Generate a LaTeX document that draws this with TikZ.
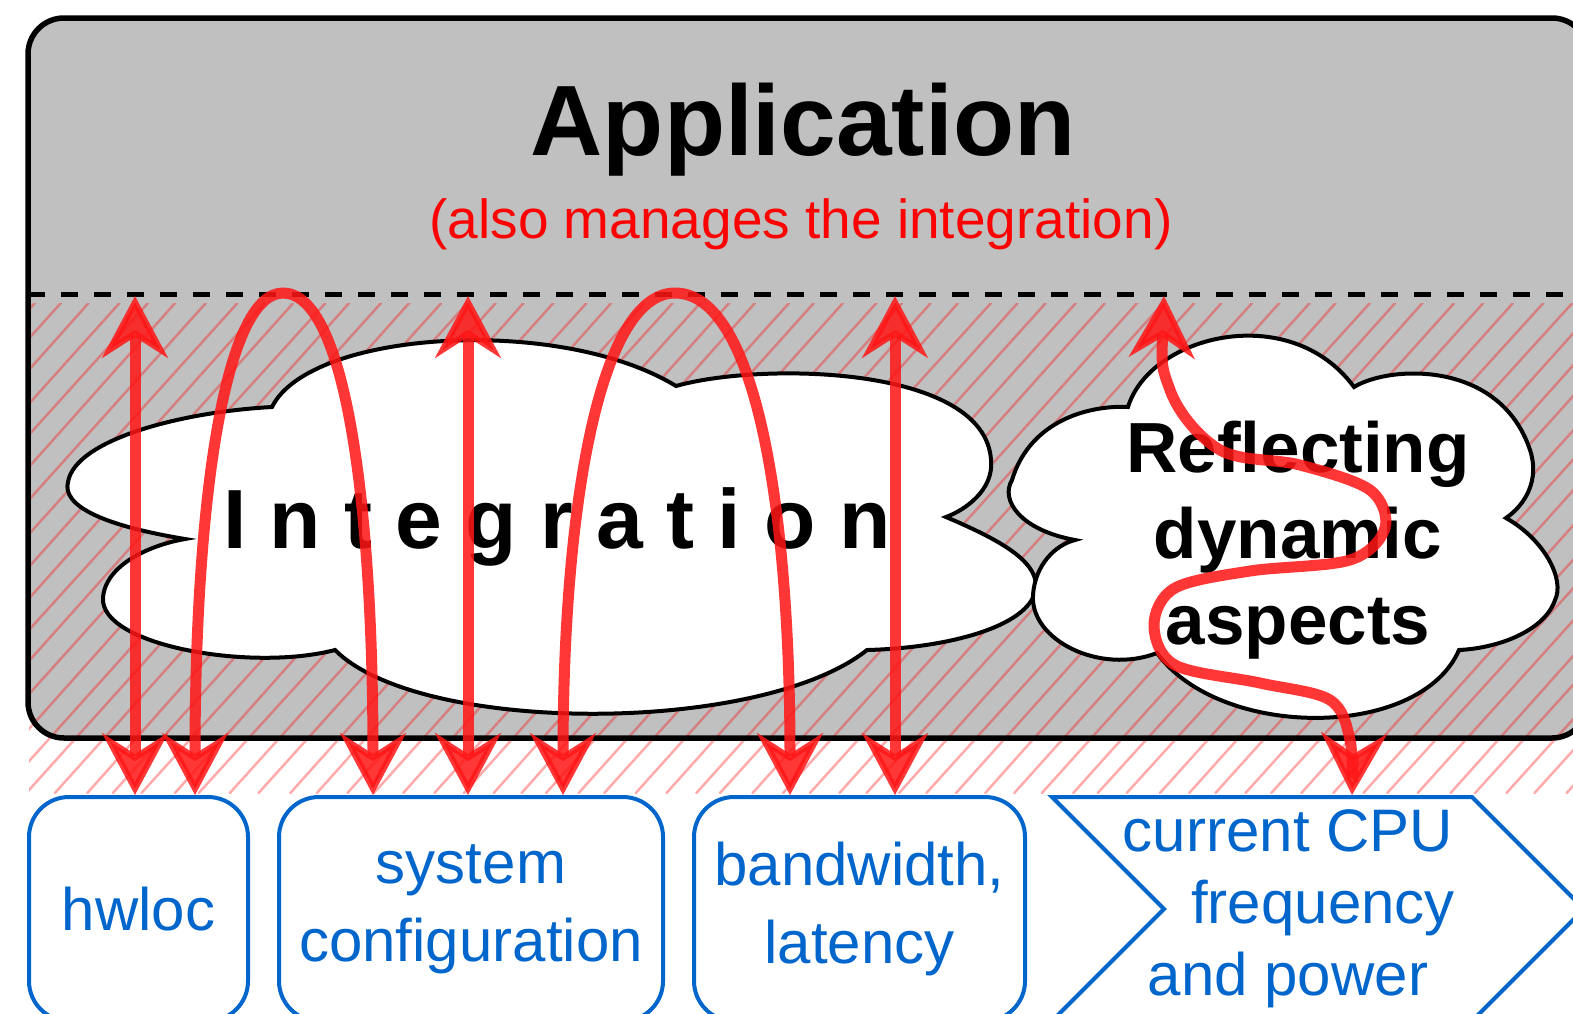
\documentclass[tikz,border=0pt]{standalone}
\usepackage{fontspec}
\setmainfont{Liberation Sans}
\usetikzlibrary{arrows.meta,calc}
\definecolor{appgray}{RGB}{192,192,192}
\definecolor{arrowred}{RGB}{255,22,22}
\definecolor{boxblue}{RGB}{0,102,204}
\begin{document}
\begin{tikzpicture}[x=1pt,y=-1pt,
  appbox/.style={fill=appgray, draw=none, rounded corners=36pt, minimum width=1560pt,
    minimum height=720pt, outer sep=0pt, inner sep=0pt},
  appborder/.style={draw=black, line width=5.5pt, rounded corners=36pt},
  dashline/.style={draw=black, line width=5pt, dash pattern=on 17pt off 16pt},
  hatchline/.style={draw=red, line width=2.5pt, opacity=0.33, line cap=round},
  cloudshape/.style={draw=black, fill=white, line width=4pt},
  bluebox/.style={draw=boxblue, line width=4pt, rounded corners=40pt, text=boxblue,
    align=center, font=\fontsize{60}{78}\selectfont, inner sep=0pt, minimum height=224pt},
  chevron/.style={draw=boxblue, line width=4pt, fill=white},
  redtip/.tip={Stealth[length=62pt,width=66pt,inset=21pt,line width=6pt]},
  redarrow/.style={draw=arrowred, line width=11pt, opacity=0.86, redtip-redtip}
]
\useasboundingbox (0,0) rectangle (1573,1013);

% application layer
\node[appbox] (app) at (808,378) {};

% hatching of the integration band
\pgfmathsetseed{3}
\begin{scope}
  \clip (29,303) rectangle (1573,793);
  \foreach \k in {-16,...,55}{
    \pgfmathsetmacro{\xa}{27+29*\k+3*rand}
    \pgfmathsetmacro{\xb}{27+29*\k+441+3*rand}
    \draw[hatchline] (\xa,793) -- (\xb,303);
  }
\end{scope}

\draw[appborder] (app.north west) rectangle (app.south east);
\coordinate (dashy) at (0,294);
\draw[dashline] (app.west |- dashy) -- (app.east |- dashy);

% titles
\node[font=\bfseries\fontsize{100}{120}\selectfont, anchor=base] (title) at (803,155) {Application};
\node[text=red, font=\fontsize{55}{66}\selectfont, anchor=base] (subtitle) at (801,238) {(also manages the integration)};

% integration cloud
\draw[cloudshape] (272,407)
  .. controls (310,330) and (560,315) .. (676,386)
  .. controls (760,362) and (985,365) .. (991,460)
  .. controls (994,490) and (965,510) .. (946,517)
  .. controls (1000,540) and (1035,560) .. (1036,585)
  .. controls (1036,625) and (950,648) .. (867,650)
  .. controls (760,735) and (420,735) .. (335,650)
  .. controls (250,672) and (100,645) .. (103,598)
  .. controls (105,565) and (150,545) .. (185,539)
  .. controls (100,525) and (62,505) .. (68,482)
  .. controls (75,440) and (180,412) .. cycle;
\node[font=\bfseries\fontsize{84}{100}\selectfont, anchor=base] (integ) at (557,548) {I n t e g r a t i o n};

% dynamic aspects cloud
\draw[cloudshape] (1128,407)
  .. controls (1150,335) and (1290,300) .. (1354,387)
  .. controls (1390,365) and (1500,360) .. (1530,450)
  .. controls (1540,480) and (1525,505) .. (1506,518)
  .. controls (1545,540) and (1565,580) .. (1555,600)
  .. controls (1545,630) and (1500,648) .. (1459,650)
  .. controls (1420,740) and (1220,740) .. (1157,653)
  .. controls (1100,675) and (1030,640) .. (1033,595)
  .. controls (1035,565) and (1055,545) .. (1075,540)
  .. controls (1020,530) and (1000,500) .. (1012,480)
  .. controls (1030,420) and (1090,405) .. cycle;
\node[font=\bfseries\fontsize{71}{86}\selectfont, align=center] (refl) at (1298,540) {Reflecting\\dynamic\\aspects};

% information sources
\node[bluebox, minimum width=219pt] (hwloc) at (138.5,909) {hwloc};
\node[bluebox, minimum width=384pt] (sysconf) at (471,909) {system\\configuration};
\node[bluebox, minimum width=331pt] (bw) at (859.5,909) {bandwidth,\\latency};
\draw[chevron] (1052,797) -- (1472,797) -- (1584,909) -- (1472,1021) -- (1052,1021) -- (1164,909) -- cycle;
\node[text=boxblue, align=center, font=\fontsize{60}{72}\selectfont] (cpu) at (1288,909)
  {current CPU\\\hspace*{70pt}frequency\\and power};

% arrow end points
\coordinate (t1) at (135,296);
\coordinate (t3) at (468,296);
\coordinate (t4) at (895,296);
\coordinate (a1l) at ([xshift=56.5pt]hwloc.north);
\coordinate (a1r) at ([xshift=-98pt]sysconf.north);
\coordinate (a2l) at ([xshift=92pt]sysconf.north);
\coordinate (a2r) at ([xshift=-69.5pt]bw.north);
\coordinate (w0) at (1164,296);
\coordinate (w1) at (1352,795);

% connections
\draw[redarrow] (t1) -- (t1 |- hwloc.north);
\draw[redarrow] (t3) -- (t3 |- sysconf.north);
\draw[redarrow] (t4) -- (t4 |- bw.north);
\draw[redarrow] (a1l) .. controls (195,500) and (225,293) .. (283,293)
  .. controls (345,293) and (373,500) .. (a1r);
\draw[redarrow] (a2l) .. controls (563,500) and (601,293) .. (675,293)
  .. controls (754,293) and (790,500) .. (a2r);
\draw[redarrow] plot[smooth, tension=0.55] coordinates {(w0) (1170,390) (1220,450) (1300,465)
  (1370,490) (1385,528) (1350,560) (1250,571) (1175,588) (1154,625) (1175,665) (1260,683)
  (1330,700) (1350,740) (w1)};
\end{tikzpicture}
\end{document}
